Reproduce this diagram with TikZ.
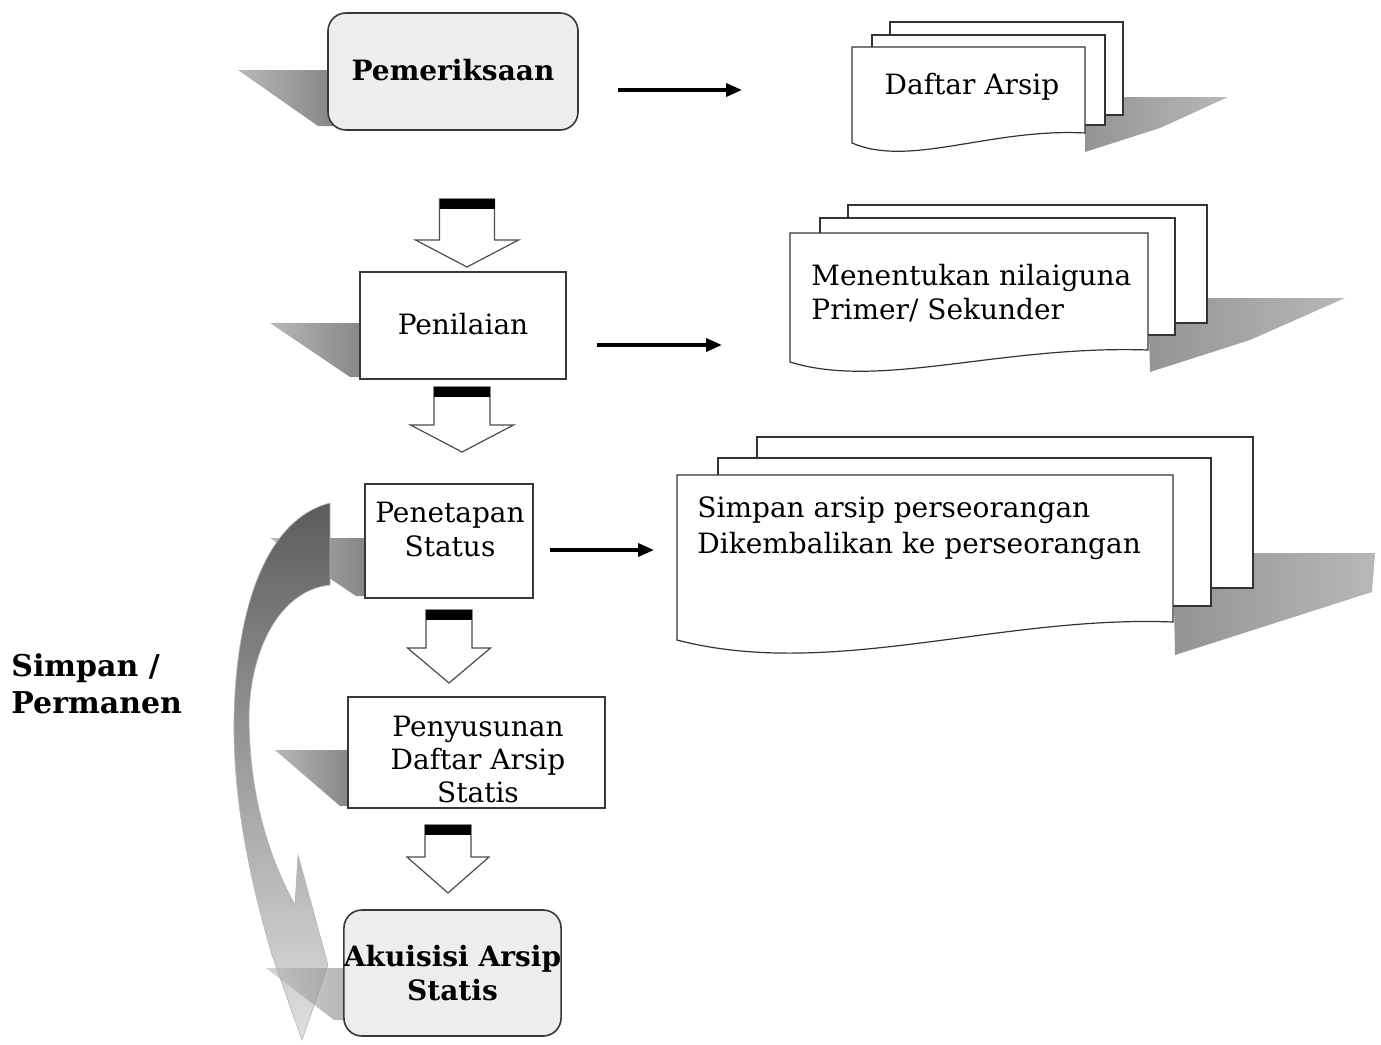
\documentclass[tikz,border=0pt]{standalone}
\usepackage{fontspec}
\setmainfont{DejaVu Serif}
\usetikzlibrary{arrows.meta,calc}
\newcommand\regf{\fontsize{14}{17}\selectfont}
\newcommand\boldf{\fontsize{14}{17}\selectfont\bfseries}
\newcommand\blockarr[6]{% cx, ytop, yhead, ytip, shaftw, headw
  \filldraw[barrowline] ({#1-#5/2},#2) -- ({#1+#5/2},#2) -- ({#1+#5/2},#3) -- ({#1+#6/2},#3) -- (#1,#4) -- ({#1-#6/2},#3) -- ({#1-#5/2},#3) -- cycle;
  \fill[black] ({#1-#5/2},#2) rectangle ({#1+#5/2},{#2+10});
}
\begin{document}
\begin{tikzpicture}[x=0.5pt,y=-0.5pt,
  boxline/.style={draw=black!78, line width=0.8pt},
  procbox/.style={boxline, fill=white, rectangle, inner sep=0pt, align=center, font=\regf},
  roundbox/.style={boxline, fill=black!7, rounded corners=9pt, inner sep=0pt, align=center, font=\boldf},
  plaintext/.style={inner sep=0pt, align=center, font=\regf},
  page/.style={draw=black!80, fill=white, line width=0.6pt},
  barrowline/.style={draw=black!70, fill=white, line width=0.6pt},
  harrow/.style={line width=1.8pt, -{Triangle[length=8pt,width=6.5pt]}},
  lshadow/.style={left color=black!28, right color=black!48},
  rshadow/.style={left color=black!42, right color=black!28},
]
\useasboundingbox (0,0) rectangle (1381,1044);

% ---------- shadows of the process boxes ----------
\shade[lshadow] (238,70) -- (336,70) -- (336,126) -- (318,126) -- cycle;
\shade[lshadow] (270,323) -- (364,323) -- (364,377) -- (350,377) -- cycle;
\shade[lshadow] (270,538) -- (368,538) -- (368,596) -- (356,596) -- cycle;
\shade[lshadow] (275,750) -- (352,750) -- (352,806) -- (340,806) -- cycle;

% ---------- curved arrow ----------
\shade[top color=black!64, middle color=black!45, bottom color=blue!4!black!12, draw=black!30, line width=0.3pt]
  (330,503) .. controls (270,518) and (236,600) .. (234,720)
  .. controls (233,800) and (250,880) .. (272,955)
  -- (302,1040) -- (328,965) -- (298,855) -- (295,905)
  .. controls (265,850) and (250,790) .. (249,720)
  .. controls (249,650) and (280,590) .. (330,585) -- cycle;
\shade[lshadow, opacity=0.6] (266,968) -- (348,968) -- (348,1020) -- (334,1020) -- cycle;

% ---------- process boxes ----------
\node[roundbox, minimum width=125pt, minimum height=58.5pt] (pem) at (453,71.5) {\raisebox{1.5pt}{Pemeriksaan}};
\node[procbox, minimum width=103pt, minimum height=53.5pt] (pen) at (463,325.5) {\raisebox{2pt}{Penilaian}};
\node[procbox, minimum width=84pt, minimum height=57pt] (petbox) at (449,541) {};
\node[plaintext] (pet) at (450,529) {Penetapan\\Status};
\node[procbox, minimum width=128.5pt, minimum height=55.5pt] (pnybox) at (476.5,752.5) {};
\node[plaintext, font=\fontsize{14}{16.5}\selectfont] (pny) at (478,759) {Penyusunan\\Daftar Arsip\\Statis};
\node[roundbox, minimum width=108.5pt, minimum height=63pt] (aku) at (452.5,973) {Akuisisi Arsip\\Statis};

% ---------- block arrows ----------
\blockarr{467}{199}{240}{267}{55}{103}
\blockarr{462}{387}{425}{452}{56}{103}
\blockarr{449}{610}{648}{683}{46}{83}
\blockarr{448}{825}{857}{893}{46}{82}

% ---------- document stacks ----------
% Daftar Arsip
\shade[rshadow] (1085,97) -- (1228,97) -- (1160,128) -- (1085,152) -- cycle;
\filldraw[page] (890,22) rectangle (1123,115);
\filldraw[page] (872,35) rectangle (1105,125);
\filldraw[page] (852,47) -- (1085,47) -- (1085,133) .. controls (990,128) and (910,168) .. (852,143) -- cycle;
\node[font=\regf] (daf) at (972,87) {Daftar Arsip};

% Menentukan nilaiguna
\shade[rshadow] (1148,298) -- (1345,298) -- (1250,340) -- (1150,372) -- cycle;
\filldraw[page] (848,205) rectangle (1207,323);
\filldraw[page] (820,218) rectangle (1175,335);
\filldraw[page] (790,233) -- (1148,233) -- (1148,350) .. controls (1000,345) and (880,390) .. (790,362) -- cycle;
\node[font=\regf, align=left, anchor=west, inner sep=0pt] (nil) at (811,293) {Menentukan nilaiguna\\Primer/ Sekunder};

% Simpan arsip
\shade[rshadow] (1173,553) -- (1375,553) -- (1372,592) -- (1175,655) -- cycle;
\filldraw[page] (757,437) rectangle (1253,588);
\filldraw[page] (718,458) rectangle (1211,606);
\filldraw[page] (677,475) -- (1173,475) -- (1173,622) .. controls (1000,615) and (830,680) .. (677,640) -- cycle;
\node[font=\fontsize{14}{18}\selectfont, align=left, anchor=west, inner sep=0pt] (sim) at (697,528) {Simpan arsip perseorangan\\Dikembalikan ke perseorangan};

% ---------- horizontal arrows ----------
\coordinate (h1a) at (618,90);  \coordinate (h1b) at (742,90);
\coordinate (h2a) at (597,345); \coordinate (h2b) at (722,345);
\coordinate (h3a) at (550,550); \coordinate (h3b) at (654,550);
\draw[harrow] (h1a) -- (h1b);
\draw[harrow] (h2a) -- (h2b);
\draw[harrow] (h3a) -- (h3b);

% ---------- side label ----------
\node[font=\fontsize{15}{18.5}\selectfont\bfseries, align=left, anchor=west, inner sep=0pt] (lbl) at (11,684) {Simpan /\\Permanen};
\end{tikzpicture}
\end{document}
